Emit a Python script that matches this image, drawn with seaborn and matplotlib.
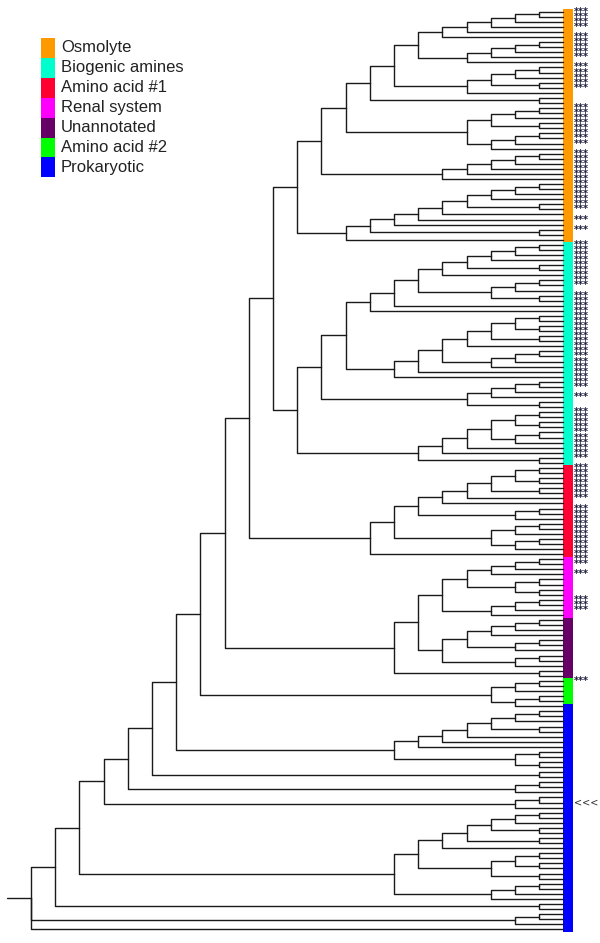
import matplotlib
matplotlib.use("Agg")
import matplotlib.pyplot as plt
import pandas as pd
import seaborn as sns

sns.set_style("white")
plt.rcParams["font.family"] = ["Liberation Sans", "DejaVu Sans"]

# ---------------------------------------------------
# Data
# ---------------------------------------------------

GROUP_NAMES = ["Osmolyte", "Biogenic amines", "Amino acid #1", "Renal system",
               "Unannotated", "Amino acid #2", "Prokaryotic"]
GROUP_COLORS = ["#ff9900", "#00ffcc", "#ff0033", "#ff00ff",
                "#660066", "#00ff00", "#0000ff"]
GROUP_CODES = ["o", "c", "r", "m", "u", "g", "p"]
# leaf letter = group, capital letter = leaf marked "***",
# x = prokaryotic leaf marked "<<<"

# Osmolyte subclades (top to bottom)
OSM_1 = "(((((OO)O)O)o)O)"
OSM_2 = "((((OO)O)O)o)"
OSM_3 = "((((OO)O)(OO))o)"
OSM_4 = "(oo)"
OSM_5 = "((((OO)O)(OO))(((OO)O)o))"
OSM_6 = "(((((OO)O)O)O)O)"
OSM_7 = "(((((((((OO)O)O)(OO))o)O)o)(Oo))o)"

# Biogenic amines subclades
BIO_1 = "(((((CC)C)C)(CC))C)"
BIO_2 = "(((CC)c)(CC))"
BIO_3 = "((((CC)(CC))(CC))C)"
BIO_4 = "(((CC)C)C)"
BIO_5 = "((((CC)c)C)(cc))"
BIO_6 = "(((CC)(CC))((CC)C))"

# Amino acid #1
AA1_1 = "(((RR)(RR))(RR))"
AA1_2 = "((RR)R)"
AA1_3 = "(((RR)R)((RR)R))"

# Renal system / Unannotated
REN_1 = "(((MM)m)M)"
REN_2 = "((mm)(mm))"
REN_3 = "(((MM)M)m)"
UNA_1 = "((((uu)u)u)((uu)u))"
UNA_2 = "((uu)u)"
UNA_3 = "(uu)"

# Amino acid #2
AA2_1 = "(((Gg)g)((gg)p))"

# Prokaryotic
PRO_1 = "((((((pp)p)(pp))p)p)p)"
PRO_2 = "((pp)(pp))"
PRO_3 = "(pp)"
PRO_4 = "((pp)p)"
PRO_5 = "((px)p)"
PRO_6 = "(((pp)p)(pp))"
PRO_7 = "(((pp)(pp))(pp))"
PRO_8 = "(((pp)p)p)"
PRO_9 = "(pp)"
PRO_10 = "((pp)p)"


# ---------------------------------------------------
# Tree assembly
# ---------------------------------------------------

def wrap(*parts):
    return "(" + "".join(parts) + ")"


osmolyte = wrap(wrap(wrap(wrap(wrap(wrap(OSM_1, OSM_2), OSM_3), OSM_4), OSM_5), OSM_6), OSM_7)
biogenic = wrap(wrap(wrap(wrap(wrap(wrap(BIO_1, BIO_2), "C"), "C"),
                          wrap(wrap(wrap(BIO_3, BIO_4), "C"), "C")), BIO_5),
                wrap(wrap(wrap(BIO_6, "C"), "C"), "(Cc)"))
amino1 = wrap(wrap(wrap(wrap(wrap(AA1_1, "R"), "r"), AA1_2), AA1_3), "R")
renal_unann = wrap(wrap(wrap(wrap(REN_1, REN_2), REN_3), wrap(UNA_1, UNA_2)), UNA_3)
prok_a = wrap(PRO_1, PRO_2)
prok_e = wrap(wrap(wrap(wrap(PRO_6, "(pp)"), "p"), PRO_7), PRO_8)

tree = wrap(osmolyte, biogenic)
for part in [amino1, renal_unann, AA2_1, prok_a, PRO_3, PRO_4, PRO_5, prok_e, PRO_9]:
    tree = wrap(tree, part)
tree = wrap(tree, PRO_10, "p")


def parse(s):
    pos = 0

    def node():
        nonlocal pos
        if s[pos] == "(":
            pos += 1
            kids = []
            while s[pos] != ")":
                kids.append(node())
            pos += 1
            return kids
        ch = s[pos]
        pos += 1
        return ch

    out = node()
    assert pos == len(s), "unbalanced tree string"
    return out


leaves = []
segments = []


def layout(n):
    if isinstance(n, str):
        leaves.append(n)
        return 0, len(leaves) - 1
    pts = [layout(k) for k in n]
    h = 1 + max(p[0] for p in pts)
    y = (pts[0][1] + pts[-1][1]) / 2
    for ch, cy in pts:
        segments.append([(-h, y), (-h, cy), (-ch, cy)])
    return h, y


root_h, root_y = layout(parse(tree))
segments.append([(-(root_h + 1), root_y), (-root_h, root_y)])

rows = []
for k, seg in enumerate(segments):
    for x, y in seg:
        rows.append({"seg": k, "x": x, "y": y})
df = pd.DataFrame(rows)

# ---------------------------------------------------
# Figure
# ---------------------------------------------------

fig = plt.figure(figsize=(6, 9.43), dpi=100)
ax = fig.add_axes([0, 0, 1, 1])

sns.lineplot(data=df, x="x", y="y", units="seg", estimator=None, sort=False,
             color="#1a1a1a", linewidth=1.0, legend=False, ax=ax)

# colour strip next to the leaves
code_of = {c: i for i, c in enumerate(GROUP_CODES)}
groups = [code_of["p" if ch == "x" else ch.lower()] for ch in leaves]
start = 0
for i in range(1, len(groups) + 1):
    if i == len(groups) or groups[i] != groups[start]:
        ax.barh(y=(start + i - 1) / 2, width=0.39, height=i - start, left=0,
                color=GROUP_COLORS[groups[start]], linewidth=0)
        start = i

for i, ch in enumerate(leaves):
    if ch.isupper():
        ax.text(0.43, i, "***", fontsize=7, color="#161638", ha="left",
                va="center", family="DejaVu Sans", fontweight="bold")
    if ch == "x":
        ax.text(0.45, i, "<<<", fontsize=7, color="#333333", ha="left",
                va="center", family="DejaVu Sans")

# pixel layout: leaves at x=563, one level = 24.2 px; leaves from y=11.7 to 929
unit = 24.19
ax.set_xlim(-563.3 / unit, (600 - 563.3) / unit)
step = (929.3 - 11.7) / (len(leaves) - 1)
ax.set_ylim((943 - 11.7) / step, -11.7 / step)
ax.axis("off")

# legend: stacked colour squares with labels, in pixel units
lax = fig.add_axes([0, 0, 1, 1])
lax.set_xlim(0, 600)
lax.set_ylim(943, 0)
lax.axis("off")
row_h = 19.9
for k, (name, col) in enumerate(zip(GROUP_NAMES, GROUP_COLORS)):
    top = 38 + k * row_h
    lax.bar(x=48, height=row_h, bottom=top, width=14, color=col, linewidth=0)
    lax.text(61, top + 14.3, name, fontsize=12, color="#222222",
             ha="left", va="baseline")

fig.savefig("out.png", dpi=100)
